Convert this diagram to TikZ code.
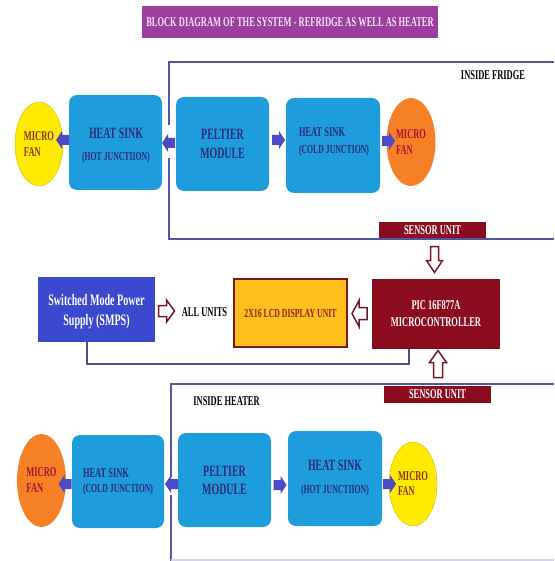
\documentclass[tikz,border=0pt]{standalone}
\usepackage{fontspec}
\setmainfont{Liberation Serif}[FakeStretch=0.63]
\usetikzlibrary{shapes.geometric}
\definecolor{titlepurple}{RGB}{155,62,160}
\definecolor{titletext}{RGB}{245,228,242}
\definecolor{boxblue}{RGB}{30,156,220}
\definecolor{navytext}{RGB}{45,45,120}
\definecolor{fanyellow}{RGB}{255,234,0}
\definecolor{fanorange}{RGB}{245,128,38}
\definecolor{fantextY}{RGB}{140,50,20}
\definecolor{fantextO}{RGB}{165,20,50}
\definecolor{arrowblue}{RGB}{75,75,200}
\definecolor{boundary}{RGB}{85,85,165}
\definecolor{darkred}{RGB}{138,12,30}
\definecolor{smpsblue}{RGB}{60,72,205}
\definecolor{lcdyellow}{RGB}{255,192,30}
\definecolor{lcdborder}{RGB}{120,25,20}
\definecolor{lcdtext}{RGB}{150,30,20}
\definecolor{hollowred}{RGB}{110,25,35}
% block arrow: #1 style, #2 x, #3 y, #4 angle, #5 length, #6 head width, #7 shaft width, #8 head length
\newcommand{\blockarrow}[8]{%
  \path[#1, shift={(#2,#3)}, rotate=#4]
    ({-#5/2},{-#7/2}) -- ({#5/2-#8},{-#7/2}) -- ({#5/2-#8},{-#6/2}) -- ({#5/2},0)
    -- ({#5/2-#8},{#6/2}) -- ({#5/2-#8},{#7/2}) -- ({-#5/2},{#7/2}) -- cycle;}
\begin{document}
\begin{tikzpicture}[x=1pt,y=-1pt,
  bluebox/.style={rectangle, rounded corners=8pt, fill=boxblue, inner sep=0pt, text=navytext},
  fan/.style={ellipse, inner sep=0pt, align=left},
  bluearrow/.style={fill=arrowblue},
  hollow/.style={draw=hollowred, line width=1.5pt, fill=white, line join=miter},
  bline/.style={draw=boundary, line width=2pt},
  wire/.style={draw=boundary!90!black, line width=2pt},
  redbox/.style={rectangle, fill=darkred, text=white, inner sep=0pt},
  lbl/.style={inner sep=0pt, font=\bfseries\fontsize{13.4}{15}\selectfont}
]
\useasboundingbox (0,0) rectangle (554,561);
\fill[white] (0,0) rectangle (554,561);

% title
\node[rectangle, fill=titlepurple, text=titletext, minimum width=296pt, minimum height=32pt, inner sep=0pt,
  font=\bfseries\fontsize{13.4}{15}\selectfont] (title) at (290,22) {BLOCK DIAGRAM OF THE SYSTEM - REFRIDGE AS WELL AS HEATER};

% fridge boundary
\draw[bline] (554,62) -- (169,62) -- (169,125);
\draw[bline] (169,158) -- (169,239) -- (554,239);
\node[lbl] (fridgelbl) at (493,75) {INSIDE FRIDGE};

% top row
\node[fan, fill=fanyellow, draw=fanyellow!80!black, line width=0.4pt, minimum width=48pt, minimum height=84pt, text=fantextY,
  font=\bfseries\fontsize{13.4}{16}\selectfont] (fan1) at (39,144) {MICRO\\FAN};
\node[bluebox, minimum width=93pt, minimum height=95pt] (hs1) at (115.5,142.5) {};
\node[inner sep=0pt, text=navytext, align=center, font=\bfseries\fontsize{15.7}{22}\selectfont] (hs1text) at (116,146)
  {HEAT SINK\\{\fontsize{12.3}{22}\selectfont (HOT JUNCTIION)}};
\node[bluebox, minimum width=93pt, minimum height=94pt, align=center, font=\bfseries\fontsize{15.7}{19}\selectfont] (pel1) at (222.5,144)
  {PELTIER\\MODULE};
\node[bluebox, minimum width=94pt, minimum height=95pt] (hs2) at (333,145.5) {};
\node[inner sep=0pt, text=navytext, align=left, font=\bfseries\fontsize{13.4}{17}\selectfont] (hs2text) at (334,142)
  {HEAT SINK\\{\fontsize{12.3}{17}\selectfont (COLD JUNCTION)}};
\node[fan, fill=fanorange, minimum width=49pt, minimum height=88pt, text=fantextO,
  font=\bfseries\fontsize{13.4}{16}\selectfont] (fan2) at (411,142) {MICRO\\FAN};

\blockarrow{bluearrow}{62.5}{140}{180}{13}{18}{10}{6}
\blockarrow{bluearrow}{168.5}{143}{180}{13}{18}{10}{6}
\blockarrow{bluearrow}{278.5}{140}{0}{13}{18}{10}{6}
\blockarrow{bluearrow}{388.5}{141}{0}{13}{18}{10}{6}

% middle
\node[redbox, minimum width=107pt, minimum height=16pt, font=\bfseries\fontsize{13.4}{15}\selectfont] (sens1) at (432.5,230) {SENSOR UNIT};
\node[rectangle, fill=smpsblue, inner sep=0pt, minimum width=117pt, minimum height=65pt] (smps) at (96.5,309.5) {};
\node[inner sep=0pt, text=white, align=center, font=\bfseries\fontsize{16}{20}\selectfont] (smpstext) at (96.5,312)
  {Switched Mode Power\\Supply (SMPS)};
\node[lbl] (allunits) at (204.5,312) {ALL UNITS};
\node[rectangle, fill=lcdyellow, draw=lcdborder, line width=2pt, text=lcdtext, inner sep=0pt, minimum width=113pt, minimum height=68pt,
  font=\bfseries\fontsize{12.3}{14}\selectfont] (lcd) at (290.5,313) {2X16 LCD DISPLAY UNIT};
\node[redbox, minimum width=128pt, minimum height=70pt, align=center, font=\bfseries\fontsize{13.4}{17}\selectfont] (pic) at (436,314)
  {PIC 16F877A\\MICROCONTROLLER};
\node[redbox, minimum width=107pt, minimum height=17pt, font=\bfseries\fontsize{13.4}{15}\selectfont] (sens2) at (437.5,394.5) {SENSOR UNIT};

\blockarrow{hollow}{434.5}{259.5}{270}{26}{16}{8}{12}
\blockarrow{hollow}{166.5}{311}{0}{16}{22}{11}{8}
\blockarrow{hollow}{359.5}{313.5}{180}{15}{26}{12}{7}
\blockarrow{hollow}{438}{364}{90}{27}{17}{9}{12}

\coordinate (w1) at (87,364);
\coordinate (w2) at (409,364);
\draw[wire] (smps.south -| w1) -- (w1) -- (w2) -- (pic.south -| w2);

% heater boundary
\draw[bline] (554,384) -- (171,384) -- (171,477);
\draw[bline] (171,495) -- (171,561);
\draw[draw=boundary!25, line width=1.5pt] (171,560) -- (554,560);
\node[lbl] (heaterlbl) at (226.5,401) {INSIDE HEATER};

% bottom row
\node[fan, fill=fanorange, minimum width=49pt, minimum height=93pt, text=fantextO,
  font=\bfseries\fontsize{13.4}{16}\selectfont] (fan3) at (41.5,480.5) {MICRO\\FAN};
\node[bluebox, minimum width=92pt, minimum height=93pt, align=left, font=\bfseries\fontsize{13.4}{15}\selectfont] (hs3) at (118,481.5)
  {HEAT SINK\\{\fontsize{12.3}{15}\selectfont (COLD JUNCTION)}};
\node[bluebox, minimum width=93pt, minimum height=94pt, align=center, font=\bfseries\fontsize{15.7}{18}\selectfont] (pel2) at (224.5,480)
  {PELTIER\\MODULE};
\node[bluebox, minimum width=94pt, minimum height=95pt, align=center, font=\bfseries\fontsize{15.7}{23}\selectfont] (hs4) at (335,478.5)
  {HEAT SINK\\{\fontsize{12.3}{23}\selectfont (HOT JUNCTIION)}};
\node[fan, fill=fanyellow, draw=fanyellow!80!black, line width=0.4pt, minimum width=48pt, minimum height=84pt, text=fantextY,
  font=\bfseries\fontsize{13.4}{15}\selectfont] (fan4) at (413,484) {MICRO\\FAN};

\blockarrow{bluearrow}{65}{484}{180}{13}{18}{10}{6}
\blockarrow{bluearrow}{171.5}{484}{180}{13}{18}{10}{6}
\blockarrow{bluearrow}{280}{485}{0}{13}{18}{10}{6}
\blockarrow{bluearrow}{389.5}{484}{0}{13}{18}{10}{6}
\end{tikzpicture}
\end{document}
